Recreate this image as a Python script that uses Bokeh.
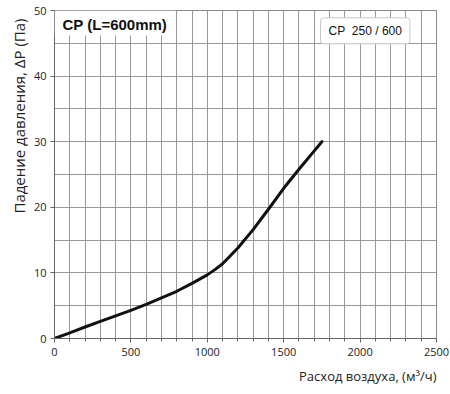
from bokeh.plotting import figure
from bokeh.models import SingleIntervalTicker, Label, Title
from bokeh.embed import file_html
from bokeh.resources import INLINE

# Data
flow = [0, 100, 200, 300, 400, 500, 600, 700, 800, 900, 1000, 1050, 1100,
        1200, 1300, 1400, 1500, 1600, 1700, 1750]
pressure = [0, 0.85, 1.75, 2.6, 3.45, 4.3, 5.2, 6.2, 7.2, 8.4, 9.7, 10.5, 11.4,
            13.8, 16.6, 19.7, 22.9, 25.8, 28.6, 30.0]

title_text = "CP (L=600mm)"
legend_text = "CP\u00a0\u00a0250 / 600"
x_label = "Расход воздуха, (м³/ч)"
y_label = "Падение давления, ΔP (Па)"

p = figure(width=450, height=394, x_range=(0, 2500), y_range=(0, 50),
           output_backend="svg", toolbar_location=None,
           min_border_left=54, min_border_right=14, min_border_top=10,
           min_border_bottom=56)
p.background_fill_color = "white"
p.border_fill_color = "white"
p.outline_line_color = "#888888"

xt = SingleIntervalTicker(interval=500, num_minor_ticks=5)
yt = SingleIntervalTicker(interval=10, num_minor_ticks=2)
p.xaxis.ticker = xt
p.yaxis.ticker = yt
p.xgrid.ticker = xt
p.ygrid.ticker = yt
for g in (p.xgrid, p.ygrid):
    g.grid_line_color = "#999999"
    g.minor_grid_line_color = "#999999"
    g.grid_line_width = 1
    g.minor_grid_line_width = 1

for ax in (p.xaxis, p.yaxis):
    ax.axis_line_color = "#666666"
    ax.major_tick_line_color = "#666666"
    ax.minor_tick_line_color = "#666666"
    ax.major_tick_out = 4
    ax.major_tick_in = 0
    ax.minor_tick_in = 0
    ax.major_label_text_font = "Open Sans"
    ax.major_label_text_font_size = "11px"
    ax.major_label_text_color = "#222222"
    ax.major_label_standoff = 5
p.xaxis.minor_tick_out = 3
p.yaxis.minor_tick_out = 0
p.yaxis.major_label_standoff = 4

p.line(flow, pressure, line_color="#111111", line_width=3, line_join="round",
       line_cap="round")

# Title box (white background covering grid)
p.add_layout(Label(x=0, y=50, text=title_text, text_align="left",
                   text_baseline="top", text_font="Liberation Sans",
                   text_font_style="bold", text_font_size="15px",
                   text_color="#111111", background_fill_color="white",
                   padding=dict(left=8, right=8, top=5, bottom=3)))

# Legend box
p.add_layout(Label(x=1741, y=46.9, text=legend_text, text_align="left",
                   text_baseline="middle", text_font="Liberation Sans",
                   text_font_size="12px", text_color="#111111",
                   background_fill_color="white", border_line_color="#c8c8c8",
                   border_radius=3,
                   padding=dict(left=8, right=8, top=6, bottom=6)))

# Axis titles
p.add_layout(Title(text=x_label, align="right", text_font="Open Sans",
                   text_font_size="13px", text_font_style="normal",
                   text_color="#222222", standoff=12), "below")
p.add_layout(Title(text=y_label, align="right", offset=8,
                   text_font="Open Sans", text_font_size="15px",
                   text_font_style="normal", text_color="#222222",
                   standoff=3), "left")

open("out.html", "w").write(file_html(p, INLINE))
